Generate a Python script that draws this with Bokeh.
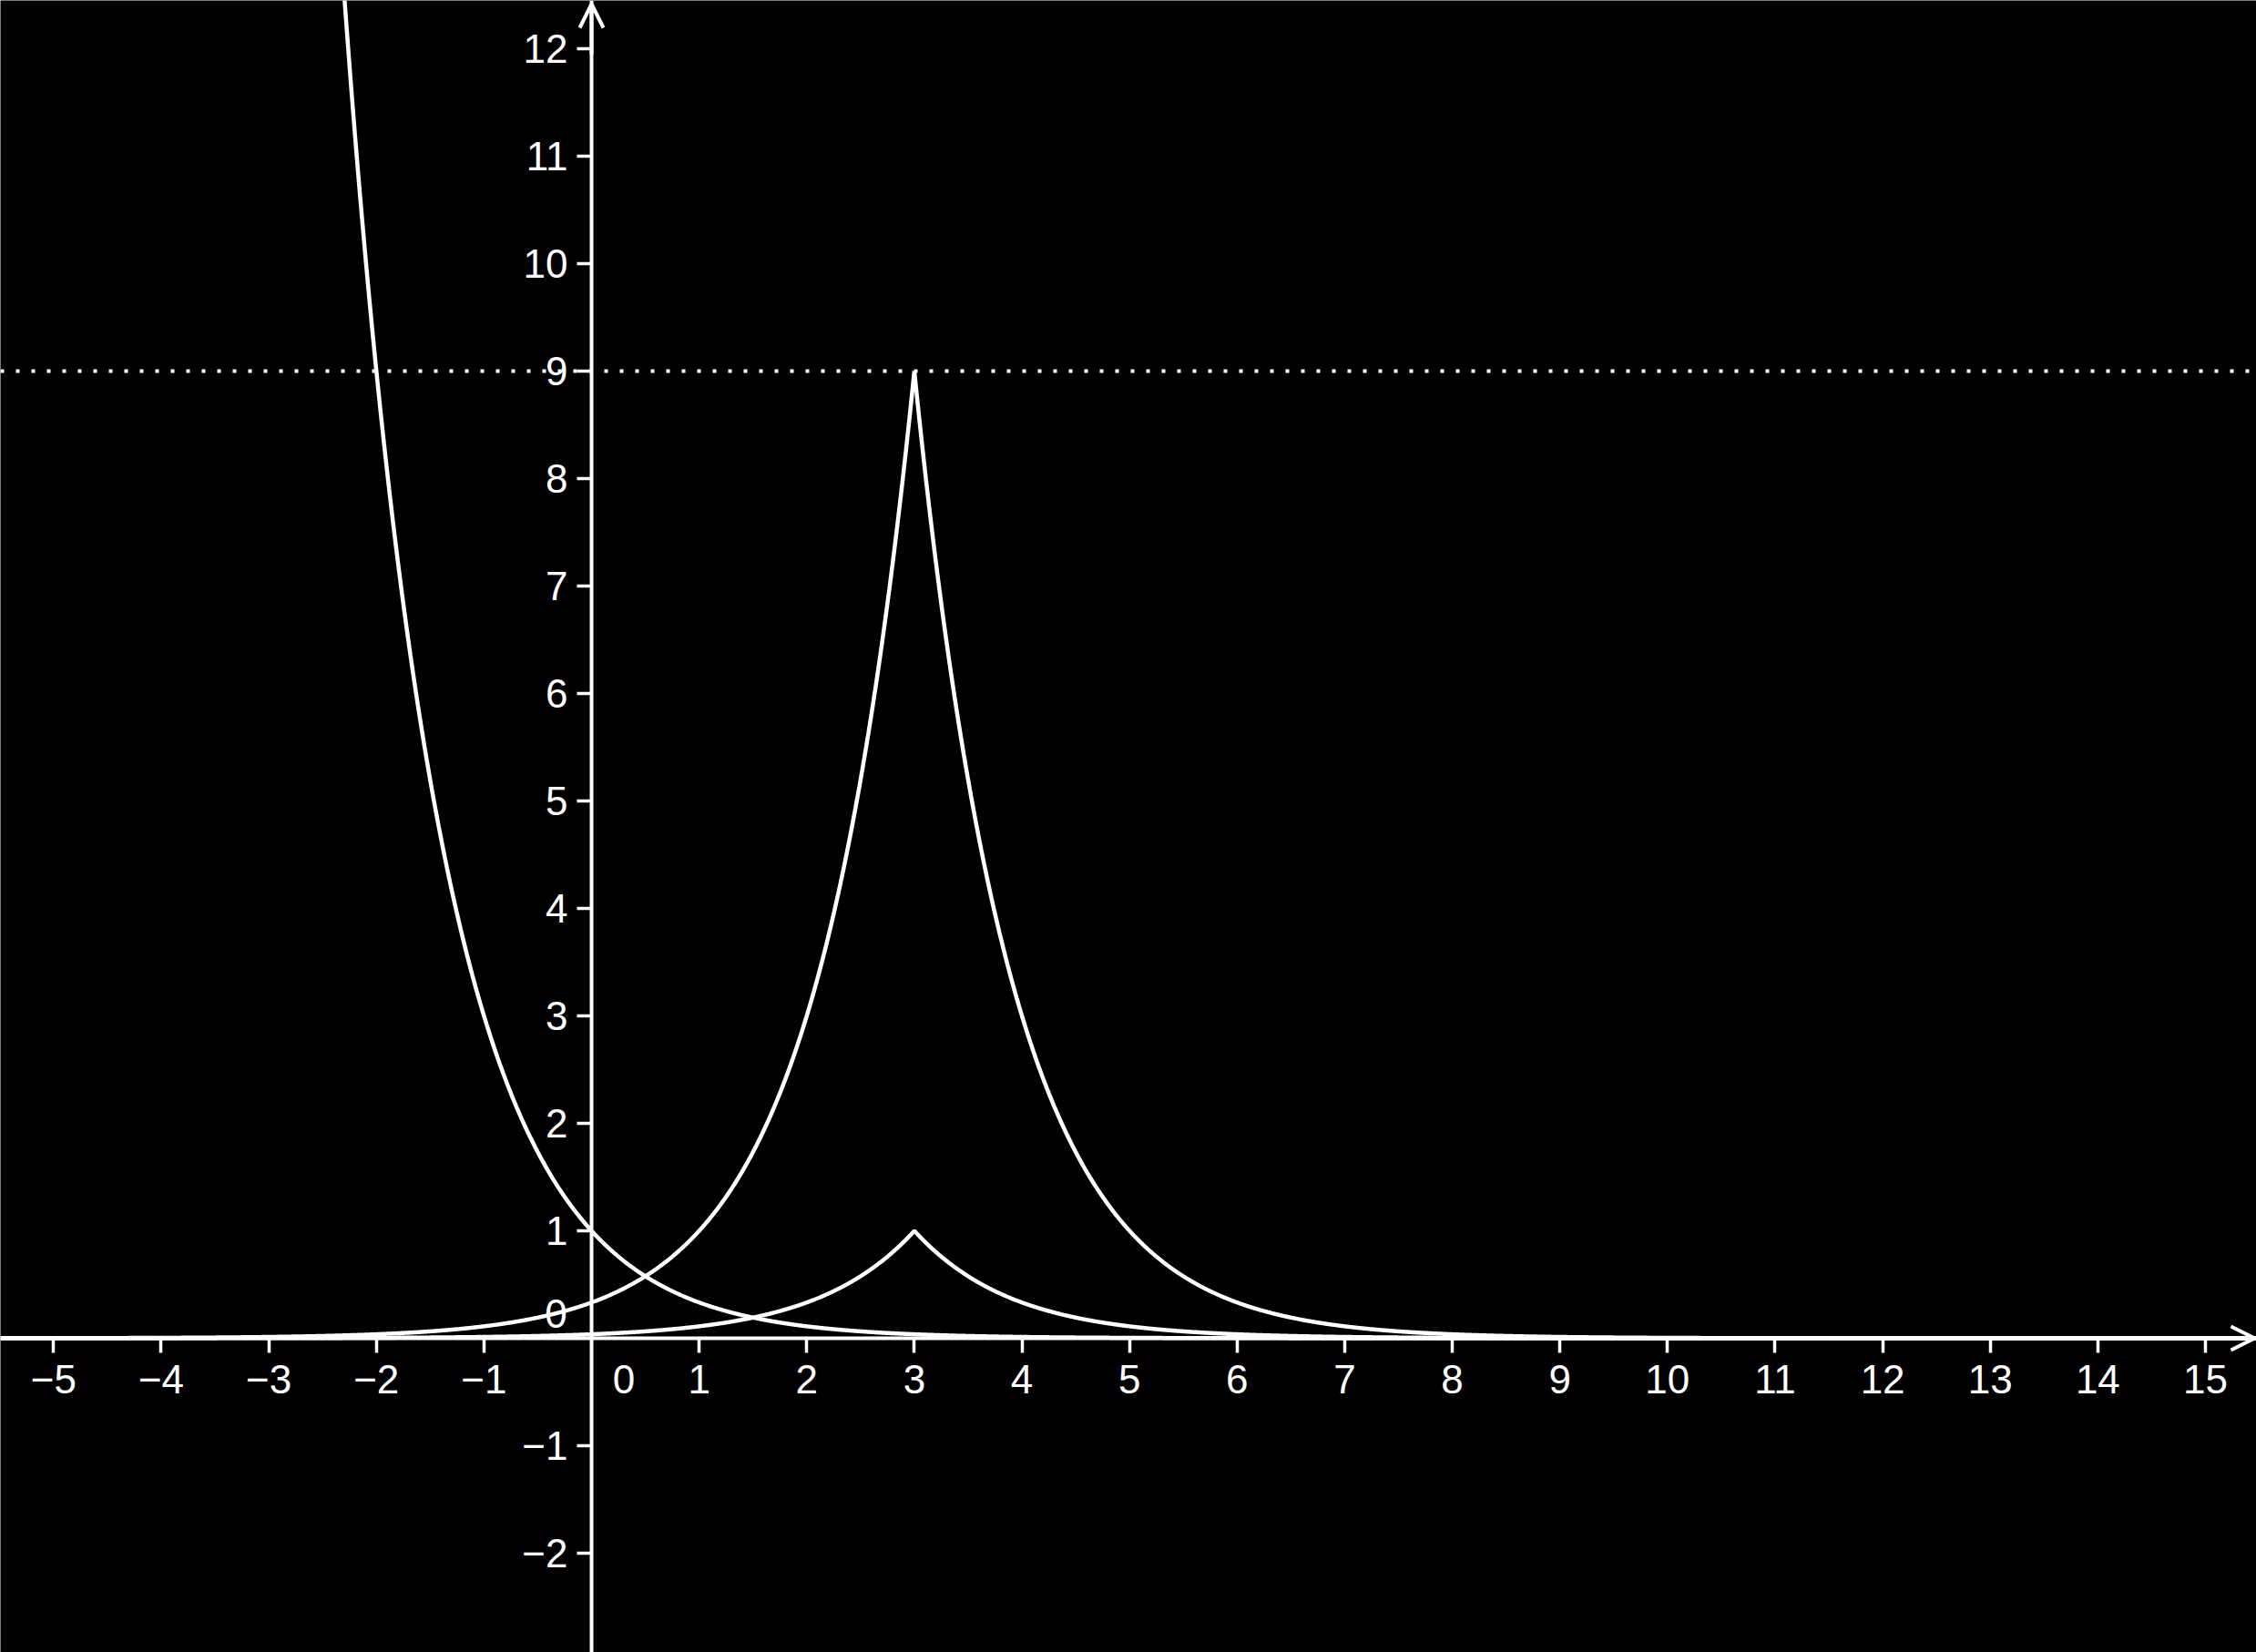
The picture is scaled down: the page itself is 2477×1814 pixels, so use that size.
import numpy as np
from bokeh.plotting import figure
from bokeh.models import FixedTicker, Range1d, Span, Arrow, OpenHead
from bokeh.core.properties import value
from bokeh.embed import file_html
from bokeh.resources import INLINE

# ---- data ----
x_ticks = [-5, -4, -3, -2, -1, 1, 2, 3, 4, 5, 6, 7, 8, 9, 10, 11, 12, 13, 14, 15]
y_ticks = [-2, -1, 1, 2, 3, 4, 5, 6, 7, 8, 9, 10, 11, 12]
base = 3.0            # exponential base of all three curves
peak_x = 3.0          # location of the cusp of the two peaked curves
peak_heights = [1.0, 9.0]
level_line = 9.0      # dotted horizontal line

X_START, X_END = -5.494, 15.474
Y_START, Y_END = -2.924, 12.449

xs = np.union1d(np.linspace(X_START, X_END, 4001), [peak_x])
decay = base ** (-xs)                      # y = 3^(-x)
peaks = [h * base ** (-np.abs(xs - peak_x)) for h in peak_heights]

W, H = 2477, 1814
p = figure(width=W, height=H, output_backend="svg", toolbar_location=None,
           x_range=Range1d(X_START, X_END), y_range=Range1d(Y_START, Y_END),
           min_border=0, background_fill_color="black", border_fill_color="black")
p.outline_line_color = None
p.grid.visible = False

FONT = "Liberation Sans"
FS = "44px"
for ax in (p.xaxis[0], p.yaxis[0]):
    ax.fixed_location = 0
    ax.axis_line_color = "white"
    ax.axis_line_width = 4
    ax.major_tick_line_color = "white"
    ax.major_tick_line_width = 3.5
    ax.major_tick_in = 0
    ax.major_tick_out = 16
    ax.minor_tick_line_color = None
    ax.major_label_text_color = "white"
    ax.major_label_text_font = FONT
    ax.major_label_text_font_size = FS
    ax.major_label_text_font_style = "normal"
p.xaxis[0].ticker = FixedTicker(ticks=x_ticks)
p.yaxis[0].ticker = FixedTicker(ticks=y_ticks)
p.xaxis[0].major_label_standoff = 14
p.yaxis[0].major_label_standoff = 10
p.xaxis[0].major_label_overrides = {t: ("\u2212%d" % -t if t < 0 else str(t)) for t in x_ticks}
p.yaxis[0].major_label_overrides = {t: ("\u2212%d" % -t if t < 0 else str(t)) for t in y_ticks}

# dotted level line
p.add_layout(Span(location=level_line, dimension="width", line_color="white",
                  line_width=4, line_dash="4 13"))

# curves
p.line(xs, decay, line_color="white", line_width=4.5)
for ys in peaks:
    p.line(xs, ys, line_color="white", line_width=4.5)

# axis arrow heads
p.add_layout(Arrow(end=OpenHead(size=26, line_color="white", line_width=4),
                   x_start=X_END - 0.5, y_start=0, x_end=15.457, y_end=0,
                   line_color="white", line_width=4))
p.add_layout(Arrow(end=OpenHead(size=26, line_color="white", line_width=4),
                   x_start=0, y_start=Y_END - 0.5, x_end=0, y_end=12.415,
                   line_color="white", line_width=4))

# origin labels (GeoGebra style)
p.text(x=[0.30], y=[0], text=["0"], text_color="white", text_font=value(FONT),
       text_font_size=FS, text_align="center", text_baseline="middle", y_offset=45)
p.text(x=[-0.33], y=[0], text=["0"], text_color="white", text_font=value(FONT),
       text_font_size=FS, text_align="center", text_baseline="middle", y_offset=-27)

html = file_html(p, INLINE)
html = html.replace("<body>", '<body style="background-color:#000000">', 1)
open("out.html", "w").write(html)
